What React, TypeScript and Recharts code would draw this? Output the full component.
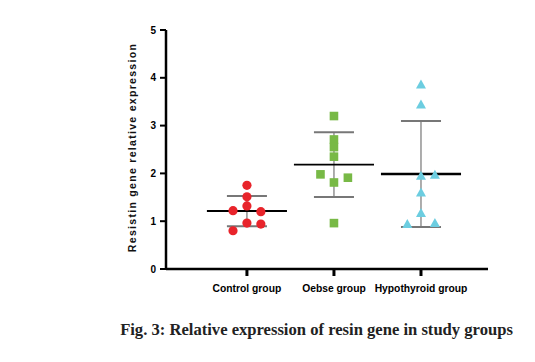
import React from 'react';
import { ComposedChart, Scatter, XAxis, YAxis, ReferenceLine } from 'recharts';

const groups = ['Control group', 'Oebse group', 'Hypothyroid group'];

// relative expression, one array per group
const controlValues = [1.75, 1.51, 1.32, 1.22, 1.2, 0.96, 0.94, 0.8];
const controlJitter = [0, 0, 0, -0.16, 0.16, 0, 0.16, -0.16];
const obeseValues = [3.2, 2.71, 2.55, 2.35, 1.98, 1.91, 1.81, 0.96];
const obeseJitter = [0, 0, 0, 0, -0.155, 0.16, 0, 0];
const hypoValues = [3.86, 3.44, 1.95, 1.97, 1.6, 1.17, 0.94, 0.96];
const hypoJitter = [0, 0, 0, 0.16, 0, 0, -0.157, 0.16];

const yTicks = [0, 1, 2, 3, 4, 5];

const mean = (v: number[]) => v.reduce((a, b) => a + b, 0) / v.length;
const sd = (v: number[]) => {
  const m = mean(v);
  return Math.sqrt(v.reduce((a, b) => a + (b - m) * (b - m), 0) / (v.length - 1));
};

const toPoints = (pos: number, values: number[], jitter: number[]) =>
  values.map((y, i) => ({ x: pos + jitter[i], y }));

const Dot = (props: any) => <circle cx={props.cx} cy={props.cy} r={4.6} fill="#e8242b" />;
const Square = (props: any) => (
  <rect x={props.cx - 4.3} y={props.cy - 4.3} width={8.6} height={8.6} fill="#78b946" />
);
const Tri = (props: any) => (
  <polygon
    points={`${props.cx},${props.cy - 5} ${props.cx + 5},${props.cy + 4} ${props.cx - 5},${props.cy + 4}`}
    fill="#6ccde0"
  />
);

const series = [
  { values: controlValues, jitter: controlJitter, shape: Dot, meanWidth: 2 },
  { values: obeseValues, jitter: obeseJitter, shape: Square, meanWidth: 1.6 },
  { values: hypoValues, jitter: hypoJitter, shape: Tri, meanWidth: 2.6 },
];

const YTitle = (props: any) => {
  const vb = props.viewBox;
  const cx = 133;
  const cy = vb.y + vb.height / 2 - 2;
  return (
    <text
      x={cx}
      y={cy}
      transform={`rotate(-90 ${cx} ${cy})`}
      textAnchor="middle"
      dominantBaseline="middle"
      fontFamily="Liberation Sans, Arial, sans-serif"
      fontWeight="bold"
      fontSize={10.5}
      letterSpacing={1.3}
      fill="#111"
    >
      Resistin gene relative expression
    </text>
  );
};

export default function App() {
  return (
    <div style={{ position: 'absolute', left: 0, top: 0, width: 535, height: 362, background: '#fff' }}>
      <ComposedChart
        width={535}
        height={305}
        margin={{ top: 30, right: 47, left: 116, bottom: 0 }}
        style={{ fontFamily: 'Liberation Sans, Arial, sans-serif' }}
      >
        <XAxis
          type="number"
          dataKey="x"
          domain={[0.07, 3.77]}
          ticks={[1, 2, 3]}
          allowDataOverflow
          tickFormatter={(v: number) => groups[v - 1]}
          axisLine={{ stroke: '#000', strokeWidth: 2.5 }}
          tickLine={{ stroke: '#000', strokeWidth: 3 }}
          tickSize={7}
          tickMargin={9}
          tick={{ fill: '#000', fontSize: 10.3, fontWeight: 'bold' }}
          height={36}
        />
        <YAxis
          type="number"
          dataKey="y"
          domain={[0, 5]}
          ticks={yTicks}
          width={50}
          axisLine={{ stroke: '#000', strokeWidth: 2.5 }}
          tickLine={{ stroke: '#000', strokeWidth: 2 }}
          tickSize={6}
          tickMargin={4}
          tick={{ fill: '#000', fontSize: 10, fontWeight: 'bold' }}
          label={<YTitle />}
        />
        {series.map((s, i) => {
          const pos = i + 1;
          const m = mean(s.values);
          const d = sd(s.values);
          return (
            <React.Fragment key={'lines' + i}>
              <ReferenceLine
                segment={[{ x: pos, y: m - d }, { x: pos, y: m + d }]}
                stroke="#777"
                strokeWidth={1.2}
                ifOverflow="visible"
              />
              <ReferenceLine
                segment={[{ x: pos - 0.23, y: m + d }, { x: pos + 0.23, y: m + d }]}
                stroke="#777"
                strokeWidth={2}
                ifOverflow="visible"
              />
              <ReferenceLine
                segment={[{ x: pos - 0.23, y: m - d }, { x: pos + 0.23, y: m - d }]}
                stroke="#777"
                strokeWidth={2}
                ifOverflow="visible"
              />
              <ReferenceLine
                segment={[{ x: pos - 0.46, y: m }, { x: pos + 0.46, y: m }]}
                stroke="#000"
                strokeWidth={s.meanWidth}
                ifOverflow="visible"
              />
            </React.Fragment>
          );
        })}
        {series.map((s, i) => (
          <Scatter
            key={'pts' + i}
            data={toPoints(i + 1, s.values, s.jitter)}
            shape={s.shape}
            isAnimationActive={false}
          />
        ))}
      </ComposedChart>
      <div
        style={{
          position: 'absolute',
          left: 0,
          width: 535,
          top: 320,
          paddingLeft: 98,
          boxSizing: 'border-box',
          textAlign: 'center',
          fontFamily: 'Liberation Serif, Times New Roman, serif',
          fontWeight: 'bold',
          fontSize: 16.6,
          color: '#222',
          whiteSpace: 'nowrap',
        }}
      >
        Fig. 3: Relative expression of resin gene in study groups
      </div>
    </div>
  );
}
